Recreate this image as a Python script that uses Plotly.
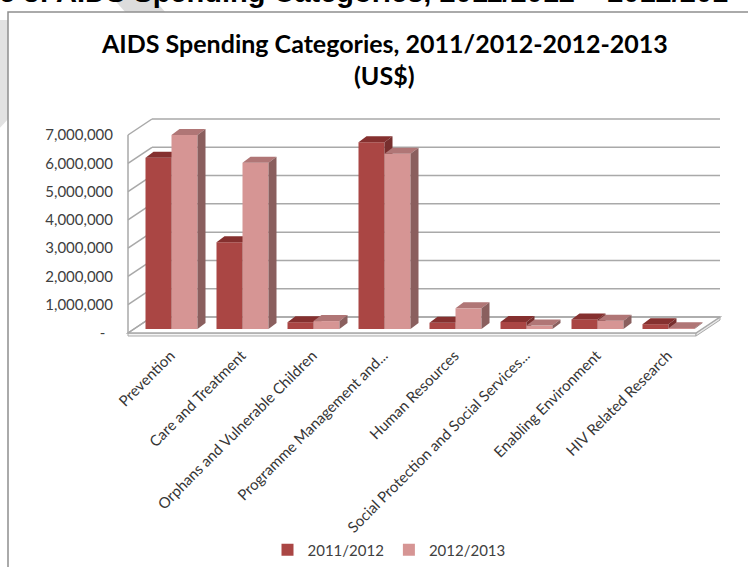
import plotly.graph_objects as go

# ---- data -----------------------------------------------------------------
categories = [
    "Prevention",
    "Care and Treatment",
    "Orphans and Vulnerable Children",
    "Programme Management and...",
    "Human Resources",
    "Social Protection and Social Services...",
    "Enabling Environment",
    "HIV Related Research",
]
series_names = ["2011/2012", "2012/2013"]
spend_2011_12 = [6050000, 3070000, 240000, 6600000, 220000, 250000, 340000, 170000]
spend_2012_13 = [6860000, 5880000, 280000, 6200000, 730000, 120000, 290000, 30000]
y_tick_values = [0, 1000000, 2000000, 3000000, 4000000, 5000000, 6000000, 7000000]
y_tick_labels = ["-\u00a0\u00a0", "1,000,000", "2,000,000", "3,000,000", "4,000,000",
                 "5,000,000", "6,000,000", "7,000,000"]

# ---- pseudo-3D geometry (screen pixels converted to data units) ----------
W, H = 748, 567
PX_PER_CAT = 71.0           # one category slot
PX_PER_UNIT = 198.0 / 7e6   # value scale on the front plane
PLOT_L, PLOT_R = 126, 722   # plot area in pixels
PLOT_T, PLOT_B = 118, 338
FRONT_ZERO_PX = 333         # floor front edge
FRONT_LEFT_PX = 128         # side-wall front edge


def ux(px):
    return px / PX_PER_CAT


def uy(px):
    return px / PX_PER_UNIT


x_lo = -0.5 - ux(FRONT_LEFT_PX - PLOT_L)
x_hi = x_lo + ux(PLOT_R - PLOT_L)
y_lo = -uy(PLOT_B - FRONT_ZERO_PX)
y_hi = y_lo + uy(PLOT_B - PLOT_T)

WALL_DX, WALL_DY = ux(24), uy(16)      # depth of the floor / side wall
BAR_SHIFT, BAR_BASE = ux(8), uy(4)     # bars stand a little behind the front edge
BAR_W = ux(26)
DEPTH_DX, DEPTH_DY = ux(8), uy(6)      # depth of each column
FLOOR_T = uy(3)                        # floor plate thickness
LABEL_SHIFT = ux(7)

C1_FRONT, C1_TOP, C1_SIDE = "#AA4644", "#85302F", "#772F2E"
C2_FRONT, C2_TOP, C2_SIDE = "#D69594", "#B07676", "#8A5F5E"
GRID = "#A9A9A9"


def column_faces(values, offset):
    """Top and side polygons of each column, separated by None."""
    tx, ty, sx, sy = [], [], [], []
    for i, v in enumerate(values):
        xl = i + offset
        xr = xl + BAR_W
        top = BAR_BASE + v
        tx += [xl, xr, xr + DEPTH_DX, xl + DEPTH_DX, xl, None]
        ty += [top, top, top + DEPTH_DY, top + DEPTH_DY, top, None]
        sx += [xr, xr, xr + DEPTH_DX, xr + DEPTH_DX, xr, None]
        sy += [BAR_BASE, top, top + DEPTH_DY, BAR_BASE + DEPTH_DY, BAR_BASE, None]
    return tx, ty, sx, sy


fig = go.Figure()

series = [
    (series_names[0], spend_2011_12, -BAR_W + BAR_SHIFT, C1_FRONT, C1_TOP, C1_SIDE, "x", "y"),
    (series_names[1], spend_2012_13, BAR_SHIFT, C2_FRONT, C2_TOP, C2_SIDE, "x2", "y2"),
]
for name, vals, off, cf, ct, cs, xa, ya in series:
    fig.add_trace(go.Bar(
        x=list(range(len(categories))), y=vals, base=BAR_BASE,
        width=BAR_W, offset=off, name=name,
        marker=dict(color=cf, line=dict(width=0)),
        xaxis=xa, yaxis=ya, hoverinfo="skip",
    ))
    tx, ty, sx, sy = column_faces(vals, off)
    fig.add_trace(go.Scatter(x=tx, y=ty, mode="lines", fill="toself", fillcolor=ct,
                             line=dict(width=0, color=ct), showlegend=False,
                             hoverinfo="skip", xaxis=xa, yaxis=ya))
    fig.add_trace(go.Scatter(x=sx, y=sy, mode="lines", fill="toself", fillcolor=cs,
                             line=dict(width=0, color=cs), showlegend=False,
                             hoverinfo="skip", xaxis=xa, yaxis=ya))

# ---- walls, floor and gridlines -------------------------------------------
shapes = []
n = len(categories)
fx0, fx1 = -0.5, n - 0.5


def paper_x(px):
    return (px - PLOT_L) / (PLOT_R - PLOT_L)


def paper_y(py):
    return (PLOT_B - py) / (PLOT_B - PLOT_T)


def px_path(points):
    """SVG path in paper coordinates from a list of pixel points."""
    pts = [f"{paper_x(x)},{paper_y(y)}" for x, y in points]
    return "M " + " L ".join(pts) + " Z"


# light page watermark behind the chart frame
shapes.append(dict(type="path", xref="paper", yref="paper", layer="below",
                   path=px_path([(110, -5), (150, -5), (167, 14), (127, 14)]),
                   fillcolor="#DCDCDC", line=dict(width=0)))
shapes.append(dict(type="path", xref="paper", yref="paper", layer="below",
                   path=px_path([(-2, 20), (10, 20), (10, 117), (-2, 130)]),
                   fillcolor="#E2E2E2", line=dict(width=0)))
# chart frame
shapes.append(dict(type="rect", xref="paper", yref="paper", layer="below",
                   x0=paper_x(8), x1=paper_x(W + 20), y0=paper_y(H + 20), y1=paper_y(12),
                   fillcolor="white", line=dict(color="#8E8E8E", width=1.5)))
# floor plate: front edge, right edge and top
shapes.append(dict(type="path", xref="x", yref="y", layer="below",
                   path=f"M {fx0},0 L {fx1},0 L {fx1},{-FLOOR_T} L {fx0},{-FLOOR_T} Z",
                   fillcolor="#F4F4F4", line=dict(color=GRID, width=1)))
shapes.append(dict(type="path", xref="x", yref="y", layer="below",
                   path=f"M {fx1},0 L {fx1 + WALL_DX},{WALL_DY} "
                        f"L {fx1 + WALL_DX},{WALL_DY - FLOOR_T} L {fx1},{-FLOOR_T} Z",
                   fillcolor="#E8E8E8", line=dict(color=GRID, width=1)))
shapes.append(dict(type="path", xref="x", yref="y", layer="below",
                   path=f"M {fx0},0 L {fx1},0 L {fx1 + WALL_DX},{WALL_DY} "
                        f"L {fx0 + WALL_DX},{WALL_DY} Z",
                   fillcolor="white", line=dict(color=GRID, width=1.5)))
for v in y_tick_values:
    # back wall gridline
    shapes.append(dict(type="line", xref="x", yref="y", layer="below",
                       x0=fx0 + WALL_DX, x1=fx1 + WALL_DX, y0=v + WALL_DY, y1=v + WALL_DY,
                       line=dict(color=GRID, width=1.5)))
    # side wall gridline
    shapes.append(dict(type="line", xref="x", yref="y", layer="below",
                       x0=fx0, x1=fx0 + WALL_DX, y0=v, y1=v + WALL_DY,
                       line=dict(color=GRID, width=1.5)))
# side wall front edge
shapes.append(dict(type="line", xref="x", yref="y", layer="below",
                   x0=fx0, x1=fx0, y0=0, y1=y_tick_values[-1],
                   line=dict(color=GRID, width=1.5)))

annotations = [
    dict(text="<b>e 3: AIDS Spending Categories, 2011/2012 \u2013 2012/201</b>",
         xref="paper", yref="paper", x=paper_x(-3), y=paper_y(10),
         xanchor="left", yanchor="bottom", showarrow=False,
         font=dict(family="Liberation Sans", size=29, color="black")),
    dict(text="<b>AIDS Spending Categories, 2011/2012-2012-2013</b>",
         xref="paper", yref="paper", x=paper_x(384), y=paper_y(43),
         xanchor="center", yanchor="middle", showarrow=False,
         font=dict(family="Lato", size=25, color="black")),
    dict(text="<b>(US$)</b>",
         xref="paper", yref="paper", x=paper_x(384), y=paper_y(75),
         xanchor="center", yanchor="middle", showarrow=False,
         font=dict(family="Lato", size=25, color="black")),
]

fig.update_layout(
    width=W, height=H,
    margin=dict(l=PLOT_L, r=W - PLOT_R, t=PLOT_T, b=H - PLOT_B, pad=0, autoexpand=False),
    paper_bgcolor="white", plot_bgcolor="rgba(0,0,0,0)",
    barmode="overlay",
    showlegend=True,
    legend=dict(orientation="h", x=paper_x(389), y=paper_y(550),
                xanchor="center", yanchor="middle",
                font=dict(family="Lato", size=15, color="#404040"),
                itemwidth=30, traceorder="normal", bgcolor="rgba(0,0,0,0)"),
    xaxis=dict(range=[x_lo, x_hi], tickmode="array",
               tickvals=[i + LABEL_SHIFT for i in range(n)],
               ticktext=categories, tickangle=-45, showgrid=False, zeroline=False,
               showline=False, ticks="outside", ticklen=2, tickcolor="rgba(0,0,0,0)",
               tickfont=dict(family="Lato", size=15, color="#363636"), fixedrange=True),
    yaxis=dict(range=[y_lo, y_hi], tickmode="array", tickvals=y_tick_values,
               ticktext=y_tick_labels, showgrid=False, zeroline=False, showline=False,
               ticks="outside", ticklen=9, tickcolor="rgba(0,0,0,0)",
               tickfont=dict(family="Lato", size=15, color="#404040"), fixedrange=True),
    xaxis2=dict(range=[x_lo, x_hi], overlaying="x", anchor="y2", visible=False,
                fixedrange=True),
    yaxis2=dict(range=[y_lo, y_hi], overlaying="y", anchor="x2", visible=False,
                fixedrange=True),
    shapes=shapes,
    annotations=annotations,
)

fig.write_html("out.html")
